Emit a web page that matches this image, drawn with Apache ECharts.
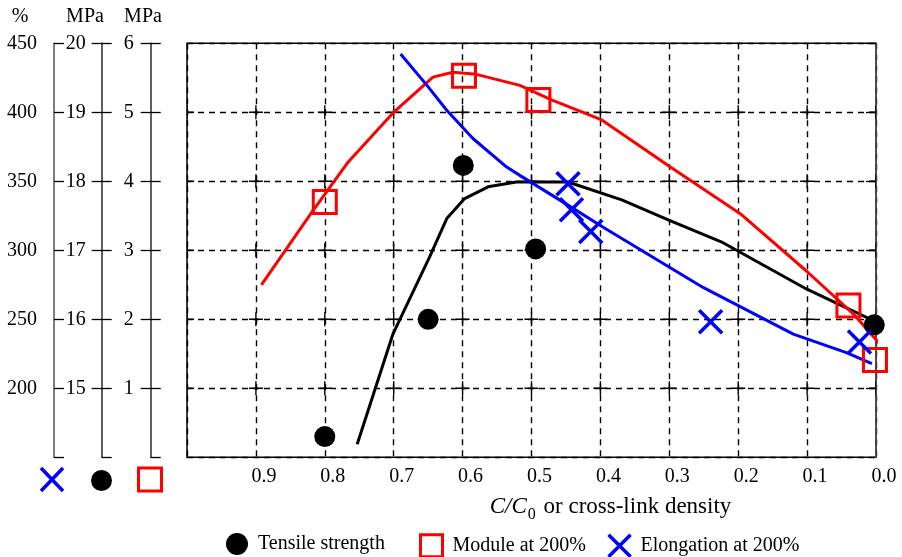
<!DOCTYPE html>
<html><head><meta charset="utf-8">
<script src="https://cdn.jsdelivr.net/npm/echarts@6/dist/echarts.min.js"></script>
<style>html,body{margin:0;padding:0;background:#fff}#c{width:902px;height:557px}</style>
</head><body><div id="c"></div><script>
const FONT = 'Liberation Serif';

// x axis ticks (C/C0)
const xTicks = [0.0, 0.1, 0.2, 0.3, 0.4, 0.5, 0.6, 0.7, 0.8, 0.9, 1.0];
// left axes tick labels
const pctTicks = [200, 250, 300, 350, 400, 450];
const mpaHighTicks = [15, 16, 17, 18, 19, 20];
const mpaLowTicks = [1, 2, 3, 4, 5, 6];

// Tensile strength (MPa, 14–20 axis)
const tensileX = [0.800, 0.650, 0.599, 0.494, 0.0025];
const tensileY = [14.30, 16.00, 18.23, 17.02, 15.92];
const tensileLineX = [0.753, 0.701, 0.648, 0.623, 0.597, 0.563, 0.522, 0.447, 0.369, 0.299, 0.222, 0.101, 0.033, 0.004];
const tensileLineY = [14.19, 15.79, 16.90, 17.46, 17.75, 17.92, 17.99, 17.99, 17.73, 17.43, 17.11, 16.44, 16.12, 15.98];

// Module at 200% (MPa, 0–6 axis)
const moduleX = [0.800, 0.598, 0.490, 0.040, 0.0015];
const moduleY = [3.70, 5.53, 5.18, 2.20, 1.41];
const moduleLineX = [0.892, 0.819, 0.766, 0.701, 0.643, 0.614, 0.580, 0.517, 0.471, 0.398, 0.299, 0.197, 0.101, 0.033, -0.004];
const moduleLineY = [2.50, 3.55, 4.28, 4.99, 5.51, 5.58, 5.55, 5.39, 5.18, 4.89, 4.21, 3.53, 2.70, 2.08, 1.66];

// Elongation at 200% (%, 150–450 axis)
const elongX = [0.447, 0.442, 0.414, 0.240, 0.024];
const elongY = [348.3, 329.4, 313.6, 248.2, 233.6];
const elongLineX = [0.690, 0.652, 0.623, 0.585, 0.536, 0.517, 0.454, 0.396, 0.251, 0.120, 0.043, 0.006];
const elongLineY = [442.2, 419.7, 401.5, 381.0, 360.3, 354.3, 334.9, 316.7, 273.1, 239.2, 225.9, 217.9];

const pairs = (xs, ys) => xs.map((x, i) => [x, ys[i]]);
const X_PATH = 'path://M0,0L20,20M20,0L0,20';

// grid-intersection crosses, built from the tick arrays
const crossData = [];
xTicks.forEach(x => pctTicks.slice(0, -1).forEach(y => crossData.push([x, y])));

function yAxes(ticks, offset, margin) {
  const step = ticks[1] - ticks[0];
  const min = ticks[0] - step, max = ticks[ticks.length - 1];
  const base = {
    type: 'value', position: 'left', min, max, interval: step, offset,
    axisLine: { show: true, lineStyle: { color: '#555', width: 1.5 } },
    splitLine: { show: false }
  };
  return [
    Object.assign({}, base, {
      axisTick: { show: true, inside: false, length: 10, lineStyle: { color: '#000', width: 1.3 } },
      axisLabel: {
        show: true, margin, showMinLabel: false, showMaxLabel: true,
        fontFamily: FONT, fontSize: 20, color: '#000',
        formatter: v => (ticks.indexOf(Math.round(v * 1000) / 1000) >= 0 ? String(v) : '')
      }
    }),
    Object.assign({}, base, {
      axisTick: { show: true, inside: true, length: 10, lineStyle: { color: '#000', width: 1.3 } },
      axisLabel: { show: false }
    })
  ];
}

const ys = [].concat(yAxes(pctTicks, 133, 17), yAxes(mpaHighTicks, 85.3, 16), yAxes(mpaLowTicks, 36.3, 17));
ys[0].splitLine = { show: true, lineStyle: { color: '#000', width: 1.4, type: [6, 5] } };

const legendBase = {
  top: 528, itemWidth: 22, itemHeight: 22, itemGap: 21,
  textStyle: { fontFamily: FONT, fontSize: 20, color: '#000', padding: [0, 0, 0, 5] }
};

const chart = echarts.init(document.getElementById('c'), null, { renderer: 'canvas' });
chart.setOption({
  backgroundColor: '#fff',
  animation: false,
  grid: { left: 187, right: 26, top: 43.3, bottom: 99.7, show: true, borderColor: '#000', borderWidth: 1.5, backgroundColor: 'transparent' },
  xAxis: {
    type: 'value', inverse: true, min: xTicks[0], max: xTicks[xTicks.length - 1], interval: 0.1,
    axisLine: { show: false }, axisTick: { show: false },
    axisLabel: { showMaxLabel: false, margin: 9, fontFamily: FONT, fontSize: 20, color: '#000', padding: [0, 0, 0, 16], formatter: v => v.toFixed(1) },
    splitLine: { show: true, lineStyle: { color: '#000', width: 1.4, type: [6, 5] } },
    name: '{it|C/C}{sub|0}{n| or cross-link density}',
    nameLocation: 'middle', nameGap: 35,
    nameTextStyle: {
      fontFamily: FONT, fontSize: 23, color: '#000', padding: [0, 0, 0, 158],
      rich: {
        it: { fontFamily: FONT, fontSize: 23, fontStyle: 'italic', color: '#000' },
        sub: { fontFamily: FONT, fontSize: 16, color: '#000', padding: [14, 2, 0, 1] },
        n: { fontFamily: FONT, fontSize: 23, color: '#000' }
      }
    }
  },
  yAxis: ys,
  legend: [
    Object.assign({}, legendBase, { left: 221, data: ['Tensile strength'] }),
    Object.assign({}, legendBase, { left: 414, data: [
      { name: 'Module at 200%', itemStyle: { borderWidth: 3 } },
      { name: 'Elongation at 200%', itemStyle: { borderWidth: 3.5 } }
    ] })
  ],
  series: [
    {
      type: 'custom', yAxisIndex: 0, data: crossData, clip: true, silent: true, z: 1,
      renderItem: (params, api) => {
        const p = api.coord([api.value(0), api.value(1)]);
        const st = { stroke: '#000', lineWidth: 1.4 };
        return { type: 'group', children: [
          { type: 'line', shape: { x1: p[0] - 7, y1: p[1], x2: p[0] + 7, y2: p[1] }, style: st },
          { type: 'line', shape: { x1: p[0], y1: p[1] - 7, x2: p[0], y2: p[1] + 7 }, style: st }
        ] };
      }
    },
    { type: 'line', yAxisIndex: 2, data: pairs(tensileLineX, tensileLineY), symbol: 'none', lineStyle: { color: '#000', width: 3 }, itemStyle: { color: '#000' }, z: 2 },
    { type: 'line', yAxisIndex: 4, data: pairs(moduleLineX, moduleLineY), symbol: 'none', clip: false, lineStyle: { color: '#ff0000', width: 3 }, itemStyle: { color: '#ff0000' }, z: 2 },
    { type: 'line', yAxisIndex: 0, data: pairs(elongLineX, elongLineY), symbol: 'none', lineStyle: { color: '#0000ff', width: 3 }, itemStyle: { color: '#0000ff' }, z: 2 },
    { name: 'Tensile strength', type: 'scatter', yAxisIndex: 2, data: pairs(tensileX, tensileY), symbol: 'circle', symbolSize: 21, itemStyle: { color: '#000', opacity: 1 }, z: 3 },
    { name: 'Module at 200%', type: 'scatter', yAxisIndex: 4, data: pairs(moduleX, moduleY), symbol: 'rect', symbolSize: 23, itemStyle: { color: 'rgba(0,0,0,0)', borderColor: '#ff0000', borderWidth: 3, opacity: 1 }, z: 3 },
    { name: 'Elongation at 200%', type: 'scatter', yAxisIndex: 0, data: pairs(elongX, elongY), symbol: X_PATH, symbolSize: 23, itemStyle: { color: 'rgba(0,0,0,0)', borderColor: '#0000ff', borderWidth: 3.5, opacity: 1 }, z: 3 }
  ],
  graphic: [
    { type: 'text', style: { text: '%', x: 20, y: 17, font: '20px "Liberation Serif"', fill: '#000', textAlign: 'center', textVerticalAlign: 'middle' } },
    { type: 'text', style: { text: 'MPa', x: 85, y: 17, font: '20px "Liberation Serif"', fill: '#000', textAlign: 'center', textVerticalAlign: 'middle' } },
    { type: 'text', style: { text: 'MPa', x: 143, y: 17, font: '20px "Liberation Serif"', fill: '#000', textAlign: 'center', textVerticalAlign: 'middle' } },
    { type: 'line', shape: { x1: 41, y1: 468, x2: 63, y2: 491 }, style: { stroke: '#0000ff', lineWidth: 3.5 } },
    { type: 'line', shape: { x1: 63, y1: 468, x2: 41, y2: 491 }, style: { stroke: '#0000ff', lineWidth: 3.5 } },
    { type: 'circle', shape: { cx: 101.5, cy: 480.5, r: 10.5 }, style: { fill: '#000' } },
    { type: 'rect', shape: { x: 138.5, y: 468, width: 23, height: 23 }, style: { fill: 'none', stroke: '#ff0000', lineWidth: 3 } }
  ]
});
</script></body></html>
